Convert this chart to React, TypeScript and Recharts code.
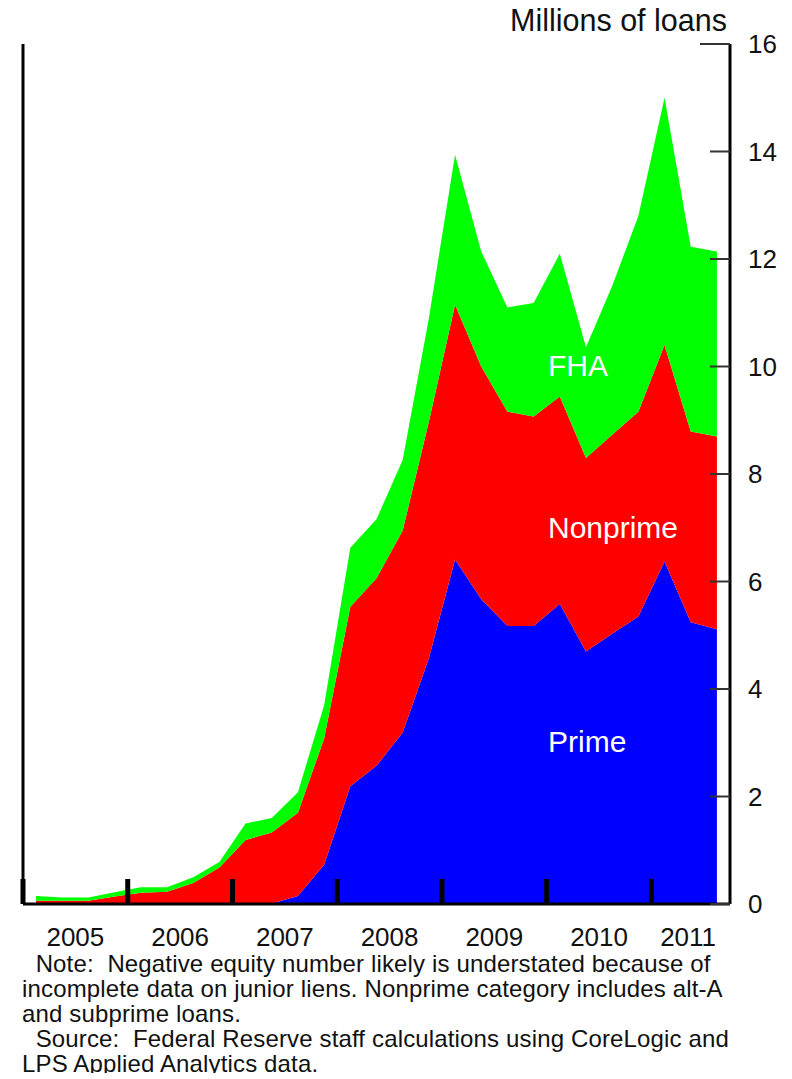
import React from "react";
import { AreaChart, Area, XAxis, YAxis } from "recharts";

// quarterly, 2005 Q1 .. 2011 Q3
const QUARTERS = [
  "2005 Q1", "2005 Q2", "2005 Q3", "2005 Q4",
  "2006 Q1", "2006 Q2", "2006 Q3", "2006 Q4",
  "2007 Q1", "2007 Q2", "2007 Q3", "2007 Q4",
  "2008 Q1", "2008 Q2", "2008 Q3", "2008 Q4",
  "2009 Q1", "2009 Q2", "2009 Q3", "2009 Q4",
  "2010 Q1", "2010 Q2", "2010 Q3", "2010 Q4",
  "2011 Q1", "2011 Q2", "2011 Q3",
];

const YEARS = ["2005", "2006", "2007", "2008", "2009", "2010", "2011"];

// millions of loans with negative equity
const PRIME = [
  0, 0, 0, 0, 0, 0, 0, 0, 0, 0.01, 0.15, 0.73, 2.19, 2.57,
  3.19, 4.57, 6.41, 5.67, 5.17, 5.17, 5.58, 4.7, 5.03, 5.35, 6.37, 5.24, 5.11,
];
const NONPRIME = [
  0.06, 0.06, 0.06, 0.14, 0.21, 0.23, 0.39, 0.68, 1.19, 1.32, 1.55, 2.35, 3.34, 3.49,
  3.76, 4.4, 4.74, 4.33, 3.99, 3.9, 3.86, 3.6, 3.7, 3.81, 4.03, 3.55, 3.59,
];
const FHA = [
  0.09, 0.06, 0.06, 0.08, 0.1, 0.08, 0.11, 0.1, 0.31, 0.27, 0.38, 0.62, 1.1, 1.1,
  1.31, 1.93, 2.79, 2.14, 1.94, 2.11, 2.66, 2.06, 2.77, 3.64, 4.6, 3.44, 3.44,
];

const Y_TICKS = [0, 2, 4, 6, 8, 10, 12, 14, 16];

const NOTE_LINES = [
  "  Note:  Negative equity number likely is understated because of",
  "incomplete data on junior liens. Nonprime category includes alt-A",
  "and subprime loans.",
  "  Source:  Federal Reserve staff calculations using CoreLogic and",
  "LPS Applied Analytics data.",
];

const data = QUARTERS.map((label, i) => ({
  label,
  q: i + 0.5,
  prime: PRIME[i],
  nonprime: NONPRIME[i],
  fha: FHA[i],
}));

const X_MAX = QUARTERS.length;
const yearStarts = YEARS.map((_, i) => i * 4);
const yearMids = YEARS.map((_, i) => Math.min(i * 4 + 2, X_MAX - 1.6));
const X_TICKS = [...yearStarts, ...yearMids].sort((a, b) => a - b);

const FONT = "'Liberation Sans', Arial, sans-serif";
const INK = "#111";

function XTick(props: any) {
  const { x, y, payload } = props;
  const v = payload.value;
  if (yearStarts.includes(v)) {
    return <rect x={x - 2.5} y={y - 25} width={5} height={25} fill="#000" />;
  }
  return (
    <text x={x} y={y + 42} textAnchor="middle" fontSize={26} fontFamily={FONT} fill={INK}>
      {YEARS[Math.floor(v / 4)]}
    </text>
  );
}

function RightTick(props: any) {
  const { x, y, payload } = props;
  const len = payload.value === 16 ? 30 : 20;
  return (
    <g>
      <line x1={x - len} x2={x} y1={y} y2={y} stroke="#333" strokeWidth={2} />
      <text x={x + 18} y={y + 9.3} fontSize={26} fontFamily={FONT} fill={INK}>
        {payload.value}
      </text>
    </g>
  );
}

function LeftTick(props: any) {
  const { x, y, payload } = props;
  const len = payload.value === 16 ? 30 : 20;
  return <line x1={x} x2={x + len} y1={y} y2={y} stroke="#333" strokeWidth={2} />;
}

const labelStyle: React.CSSProperties = {
  position: "absolute",
  color: "#fff",
  fontFamily: FONT,
  fontSize: 30,
  lineHeight: "30px",
  whiteSpace: "nowrap",
};

const noteStyle: React.CSSProperties = {
  fontFamily: FONT,
  fontSize: 24,
  lineHeight: "25px",
  letterSpacing: "0.15px",
  color: INK,
  whiteSpace: "pre",
};

export default function App() {
  return (
    <div style={{ position: "relative", width: 772, height: 1065 }}>
      <div
        style={{
          position: "absolute",
          left: 0,
          top: -3,
          width: 719,
          textAlign: "right",
          fontFamily: FONT,
          fontSize: 30.5,
          lineHeight: "30px",
          color: INK,
        }}
      >
        Millions of loans
      </div>

      <AreaChart
        width={772}
        height={956}
        data={data}
        margin={{ top: 36, right: 0, bottom: 0, left: 0 }}
      >
        <XAxis
          dataKey="q"
          type="number"
          domain={[0, X_MAX]}
          ticks={X_TICKS}
          interval={0}
          height={60}
          tickSize={0}
          tickMargin={0}
          tick={<XTick />}
          axisLine={{ stroke: "#000", strokeWidth: 3 }}
          tickLine={false}
        />
        <YAxis
          yAxisId="l"
          orientation="left"
          width={15}
          domain={[0, 16]}
          ticks={Y_TICKS}
          interval={0}
          tickSize={0}
          tickMargin={0}
          tick={<LeftTick />}
          axisLine={{ stroke: "#000", strokeWidth: 3 }}
          tickLine={false}
        />
        <YAxis
          yAxisId="r"
          orientation="right"
          width={50}
          domain={[0, 16]}
          ticks={Y_TICKS}
          interval={0}
          tickSize={0}
          tickMargin={0}
          tick={<RightTick />}
          axisLine={{ stroke: "#000", strokeWidth: 3 }}
          tickLine={false}
        />
        <Area yAxisId="r" type="linear" dataKey="prime" stackId="1" stroke="none" fill="#0000ff" fillOpacity={1} dot={false} activeDot={false} isAnimationActive={false} />
        <Area yAxisId="r" type="linear" dataKey="nonprime" stackId="1" stroke="none" fill="#ff0000" fillOpacity={1} dot={false} activeDot={false} isAnimationActive={false} />
        <Area yAxisId="r" type="linear" dataKey="fha" stackId="1" stroke="none" fill="#00ff00" fillOpacity={1} dot={false} activeDot={false} isAnimationActive={false} />
      </AreaChart>

      <div style={{ ...labelStyle, left: 540, top: 343 }}>FHA</div>
      <div style={{ ...labelStyle, left: 540, top: 505 }}>Nonprime</div>
      <div style={{ ...labelStyle, left: 540, top: 719 }}>Prime</div>

      <div style={{ position: "absolute", left: 14, top: 943 }}>
        {NOTE_LINES.map((line, i) => (
          <div key={i} style={noteStyle}>{line}</div>
        ))}
      </div>
    </div>
  );
}
